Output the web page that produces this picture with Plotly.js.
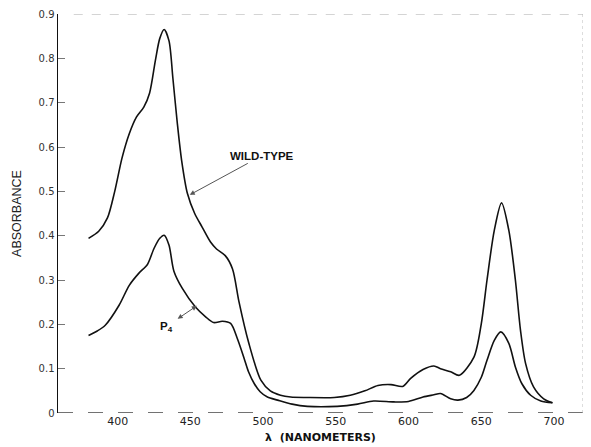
<!DOCTYPE html>
<html>
<head>
<meta charset="utf-8">
<script src="https://cdn.plot.ly/plotly-3.0.1.min.js"></script>
<style>
html,body{margin:0;padding:0;background:#fff;}
#chart{width:591px;height:447px;}
</style>
</head>
<body>
<div id="chart"></div>
<script>
// Wavelength (nm) and absorbance
var wildX = [380,387,393,398,403,408,413,418,422,426,429,432,435.3,438,441,444,448,453,458,464,468,474,479,483.5,490,498.5,505,512,519,530,549,560,570,579,588,596,601.5,610,617.5,622,629,635,645,650,654,659,664,669,673.5,677,680.5,686,693,699];
var wildY = [0.394,0.41,0.44,0.5,0.575,0.63,0.668,0.69,0.722,0.796,0.845,0.865,0.84,0.755,0.655,0.57,0.495,0.45,0.42,0.385,0.37,0.355,0.325,0.25,0.16,0.074,0.05,0.04,0.036,0.035,0.035,0.04,0.05,0.062,0.064,0.06,0.078,0.098,0.106,0.1,0.093,0.085,0.126,0.2,0.30,0.412,0.474,0.412,0.30,0.187,0.112,0.059,0.032,0.023];

var p4X = [380,386,391.5,401,408,414.5,420.5,425,429,432,435.3,438.7,444.5,453.5,460.5,466,472,477.7,482.3,487,490,494,498,503,510,520,530.5,551,565,576,590,600,610,617.5,622,629,634,640,645,650,654,659,663.5,669,673.5,678,684,691,699];
var p4Y = [0.175,0.185,0.198,0.243,0.288,0.315,0.335,0.371,0.394,0.401,0.379,0.32,0.281,0.239,0.217,0.204,0.207,0.202,0.168,0.123,0.093,0.066,0.048,0.036,0.029,0.02,0.015,0.015,0.02,0.027,0.025,0.026,0.036,0.041,0.044,0.032,0.029,0.035,0.051,0.08,0.119,0.164,0.183,0.157,0.104,0.066,0.04,0.027,0.023];

var xTicks = [400,450,500,550,600,650,700];
var yTicks = [0,0.1,0.2,0.3,0.4,0.5,0.6,0.7,0.8,0.9];
var yTickText = ['0','0.1','0.2','0.3','0.4','0.5','0.6','0.7','0.8','0.9'];

var lineStyle = {color:'#111', width:1.6, shape:'spline', smoothing:0.8};

var traces = [
  {x: wildX, y: wildY, mode:'lines', line: lineStyle, name:'WILD-TYPE', hoverinfo:'skip'},
  {x: p4X, y: p4Y, mode:'lines', line: lineStyle, name:'P4', hoverinfo:'skip'}
];

var layout = {
  width:591, height:447,
  margin:{l:58, r:8, t:14, b:34},
  paper_bgcolor:'#fff', plot_bgcolor:'#fff',
  showlegend:false,
  font:{family:'DejaVu Sans, Arial, sans-serif', color:'#222'},
  xaxis:{
    range:[359,720], tickvals:xTicks, ticktext:xTicks.map(String),
    ticks:'', showgrid:false, zeroline:false, showline:false,
    tickfont:{size:11, color:'#222'},
    title:{text:'λ  (NANOMETERS)', font:{size:11, family:'DejaVu Sans, Arial, sans-serif', weight:'bold', color:'#111'}, standoff:6}
  },
  yaxis:{
    range:[0,0.9], tickvals:yTicks, ticktext:yTickText,
    ticks:'inside', ticklen:7, tickcolor:'#777', tickwidth:1,
    showgrid:false, zeroline:false, showline:true, linecolor:'#111', linewidth:1.5,
    tickfont:{size:10, color:'#333'},
    title:{text:'ABSORBANCE', font:{size:12.5, family:'Liberation Sans, Arial, sans-serif', color:'#222'}, standoff:14}
  },
  shapes:[
    {type:'line', xref:'paper', yref:'y', x0:0, x1:1, y0:0, y1:0, line:{color:'#444', width:1.5, dash:'longdash'}},
    {type:'line', xref:'paper', yref:'y', x0:0.03, x1:1, y0:0.9, y1:0.9, line:{color:'#aaa', width:1, dash:'dash'}},
    {type:'line', xref:'x', yref:'paper', x0:720, x1:720, y0:0, y1:1, line:{color:'#bbb', width:1, dash:'dot'}}
  ],
  annotations:[
    {ax:499, ay:0.58, axref:'x', ayref:'y', x:449, y:0.491, xref:'x', yref:'y',
     text:'<b>WILD-TYPE</b>', showarrow:true, arrowhead:2, arrowsize:1, arrowwidth:1, arrowcolor:'#555', standoff:1,
     font:{size:11.5, family:'Liberation Sans, Arial, sans-serif', color:'#111'}},
    {ax:433.5, ay:0.195, axref:'x', ayref:'y', x:455, y:0.243, xref:'x', yref:'y',
     text:'<b>P<sub>4</sub></b>', showarrow:true, arrowhead:2, arrowside:'end+start', arrowsize:1, arrowwidth:1, arrowcolor:'#555', standoff:1, startstandoff:4,
     font:{size:11.5, family:'Liberation Sans, Arial, sans-serif', color:'#111'}}
  ]
};

Plotly.newPlot('chart', traces, layout, {displayModeBar:false, staticPlot:true});
</script>
</body>
</html>
